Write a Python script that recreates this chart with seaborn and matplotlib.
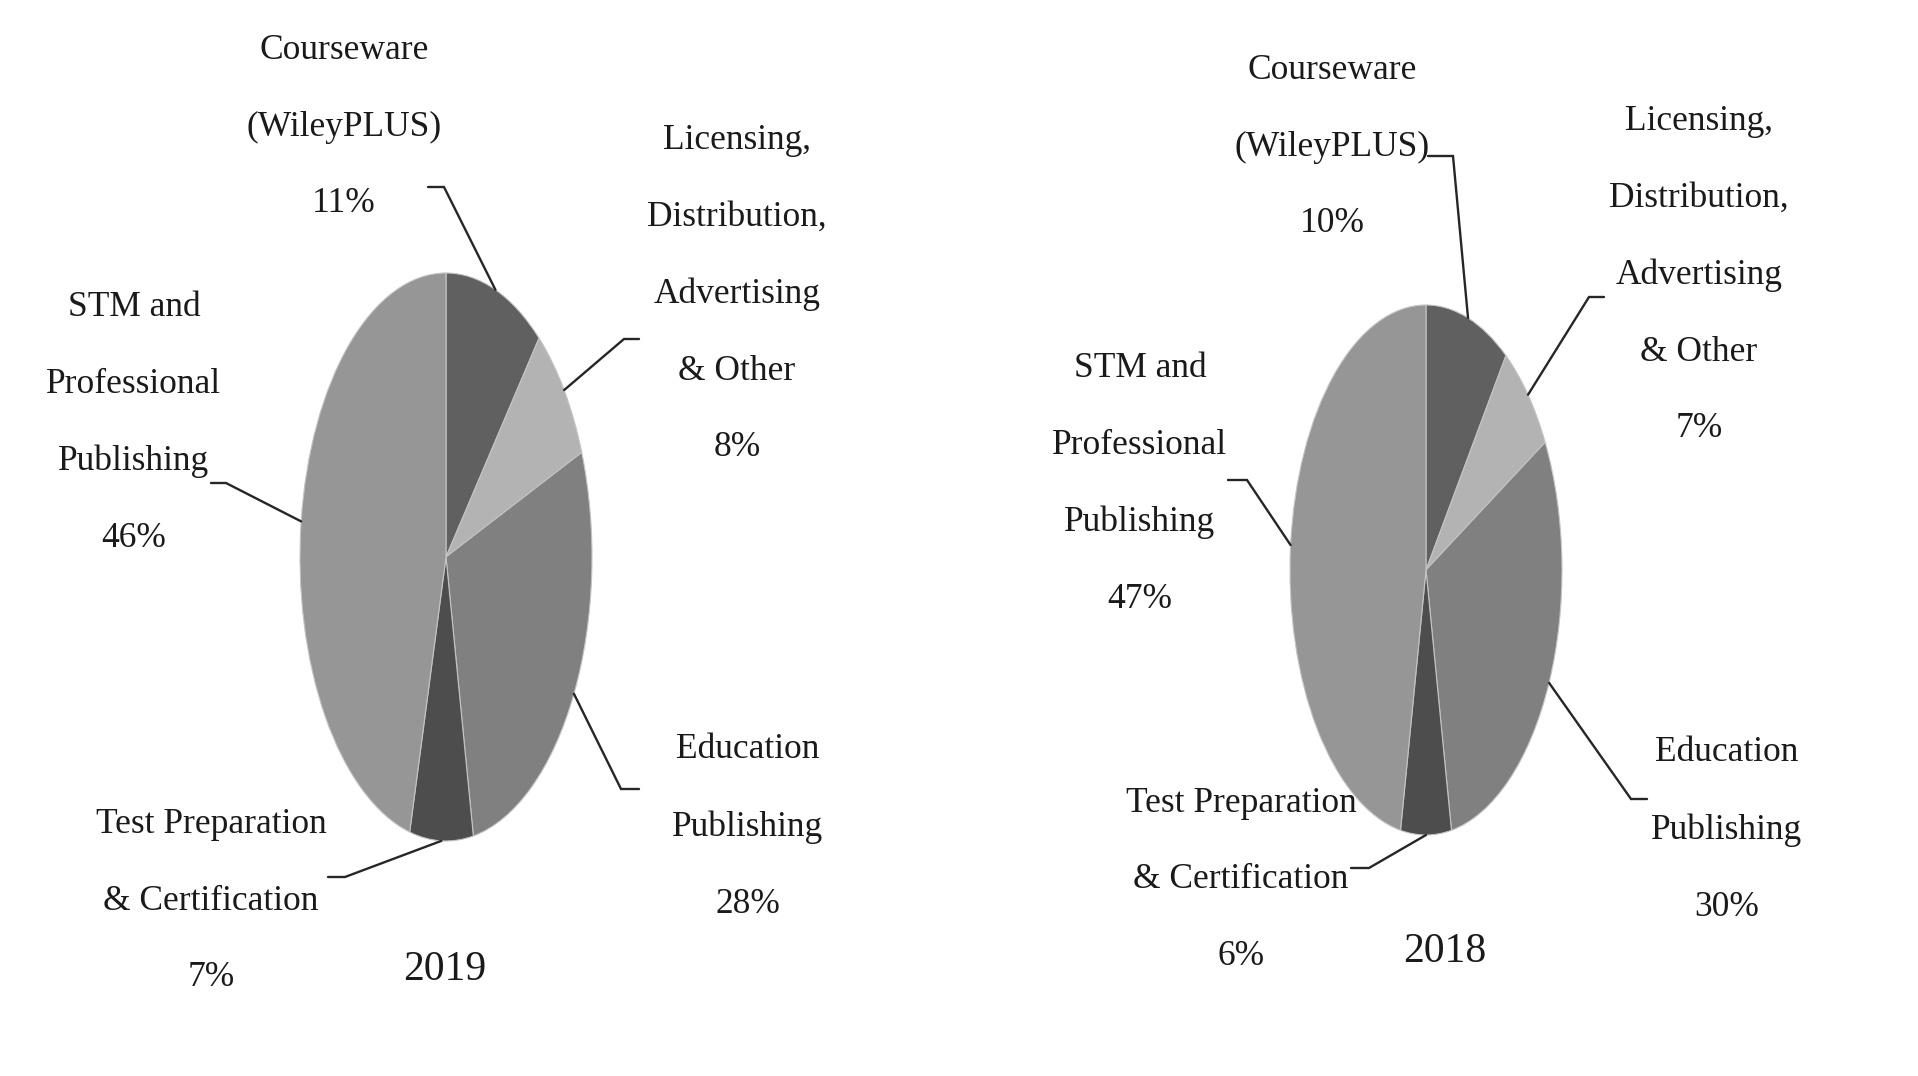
import numpy as np
import matplotlib.pyplot as plt
import seaborn as sns

# segment names, clockwise from 12 o'clock
segments = ["Courseware\n(WileyPLUS)",
            "Licensing,\nDistribution,\nAdvertising\n& Other",
            "Education\nPublishing",
            "Test Preparation\n& Certification",
            "STM and\nProfessional\nPublishing"]
share_2019 = [11, 8, 28, 7, 46]
share_2018 = [10, 7, 30, 6, 47]
years = ["2019", "2018"]
grays = ["#606060", "#b3b3b3", "#808080", "#4d4d4d", "#969696"]

W, H = 1918, 1076

sns.set_theme(style="white")
plt.rcParams["font.family"] = ["Liberation Serif", "DejaVu Serif"]

# panel layout in pixels (pie centre, radii, year caption, label centres, leader elbows/ends)
panels = {
    "2019": dict(c=(446, 557), r=(146, 284), year=(445, 970),
                 lab=[(344, 127), (737, 294), (748, 827), (211, 901), (134, 423)],
                 elbow=[(444, 187), (624, 339), (621, 789), (345, 877), (226, 483)],
                 end=[(428, 187), (639, 339), (639, 789), (328, 877), (211, 483)]),
    "2018": dict(c=(1426, 570), r=(136, 265), year=(1445, 952),
                 lab=[(1332, 147), (1699, 275), (1727, 830), (1241, 880), (1140, 484)],
                 elbow=[(1453, 156), (1589, 297), (1631, 799), (1369, 868), (1247, 480)],
                 end=[(1428, 156), (1604, 297), (1647, 799), (1351, 868), (1228, 480)]),
}

fig = plt.figure(figsize=(W / 100, H / 100), dpi=100)
fig.patch.set_facecolor("white")

for year, values in zip(years, [share_2019, share_2018]):
    p = panels[year]
    cx, cy = p["c"]
    rx, ry = p["r"]

    def px(x, y):
        return (x - cx) / rx, (cy - y) / ry

    ax = fig.add_axes([0, 0, 1, 1])
    wedges, _ = ax.pie(values, colors=grays, startangle=90, counterclock=False,
                       radius=1, wedgeprops=dict(edgecolor="#c4c4c4", linewidth=0.8))
    ax.set_aspect("auto")
    ax.set_xlim(-cx / rx, (W - cx) / rx)
    ax.set_ylim((cy - H) / ry, cy / ry)
    ax.axis("off")

    for i, (w, name, v) in enumerate(zip(wedges, segments, values)):
        mid = np.deg2rad((w.theta1 + w.theta2) / 2)
        ex, ey = px(*p["elbow"][i])
        tx, ty = px(*p["end"][i])
        ax.plot([np.cos(mid), ex, tx], [np.sin(mid), ey, ty],
                color="#262626", lw=1.7, solid_joinstyle="miter")
        lx, ly = px(*p["lab"][i])
        ax.text(lx, ly, f"{name}\n{v}%", ha="center", va="center",
                fontsize=25.5, linespacing=2.74, color="#1a1a1a")

    yx, yy = px(*p["year"])
    ax.text(yx, yy, year, ha="center", va="center", fontsize=30, color="#1a1a1a")

fig.savefig("out.png", dpi=100)
